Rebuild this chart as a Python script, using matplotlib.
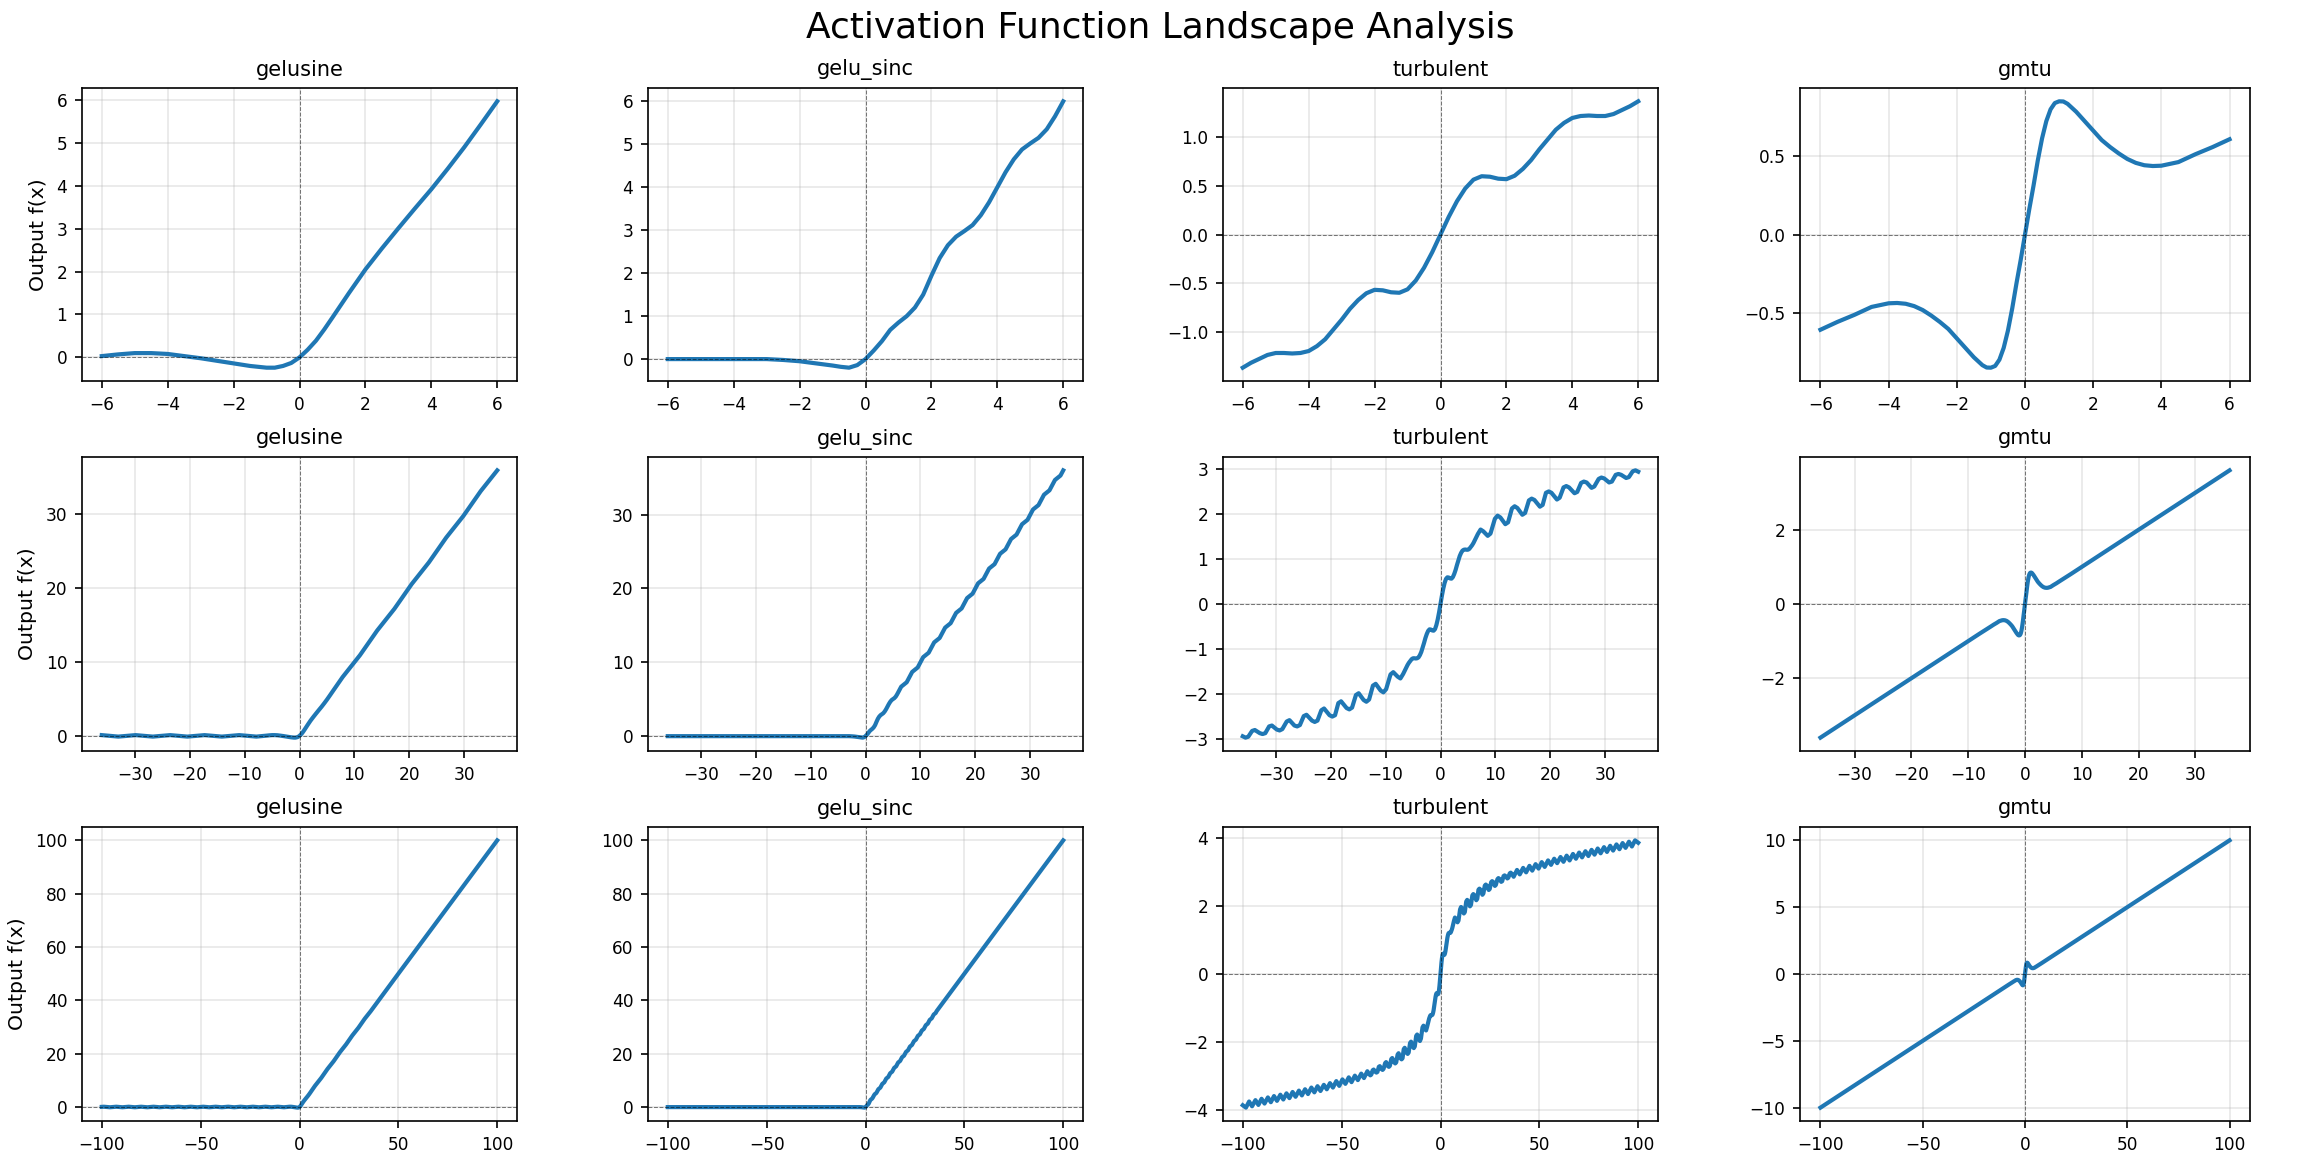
import numpy as np
import matplotlib
matplotlib.use("Agg")
import matplotlib.pyplot as plt
from matplotlib.ticker import MultipleLocator

# ---------------- data ----------------
function_names = ["gelusine", "gelu_sinc", "turbulent", "gmtu"]
row_ranges = [6, 36, 100]
x_tick_steps = [2, 10, 50]
y_tick_steps = [[1, 1, 0.5, 0.5], [10, 10, 1, 2], [20, 20, 2, 5]]
suptitle_text = "Activation Function Landscape Analysis"
ylabel_text = "Output f(x)"

gelusine_x = [-100, -98.96, -95.82, -92.68, -89.54, -86.39, -83.25, -80.11, -76.97, -73.83,
              -70.69, -67.54, -64.40, -61.26, -58.12, -54.98, -51.84, -48.69, -45.55, -42.41,
              -39.27, -36.13, -36, -32.99, -29.85, -26.70, -23.56, -20.42, -17.28, -14.14,
              -10.99, -7.85, -6, -5.5, -5, -4.5, -4, -3.5, -3, -2.5, -2, -1.5, -1, -0.75,
              -0.5, -0.25, 0, 0.25, 0.5, 0.75, 1, 1.5, 2, 2.5, 3, 3.5, 4, 4.5, 5, 5.5, 6,
              7.85, 11.0, 14.14, 17.28, 20.42, 23.56, 26.70, 29.85, 32.99, 36, 50, 75, 100]
gelusine_y = [0.05, 0.10, -0.10, 0.10, -0.10, 0.10, -0.10, 0.10, -0.10, 0.10,
              -0.10, 0.10, -0.10, 0.10, -0.10, 0.10, -0.10, 0.10, -0.10, 0.10,
              -0.10, 0.10, 0.10, -0.10, 0.10, -0.10, 0.10, -0.10, 0.10, -0.10,
              0.10, -0.10, 0.03, 0.07, 0.10, 0.10, 0.08, 0.03, -0.02, -0.08, -0.14, -0.20, -0.24, -0.24,
              -0.20, -0.13, 0.0, 0.18, 0.39, 0.65, 0.93, 1.50, 2.05, 2.54, 3.01, 3.47, 3.92, 4.40, 4.90, 5.43, 5.97,
              7.95, 10.90, 14.24, 17.18, 20.52, 23.46, 26.80, 29.75, 33.09, 35.90, 49.97, 74.96, 99.95]

gelu_sinc_x = [-100, -36, -6, -3, -2.5, -2, -1.5, -1, -0.75, -0.5, -0.25, 0,
               0.25, 0.5, 0.75, 1, 1.25, 1.5, 1.75, 2, 2.25, 2.5, 2.75, 3, 3.25, 3.5, 3.75, 4,
               4.25, 4.5, 4.75, 5, 5.25, 5.5, 5.75, 6,
               6.5, 7.5, 8.5, 9.5, 10.5, 11.5, 12.5, 13.5, 14.5, 15.5, 16.5, 17.5, 18.5, 19.5,
               20.5, 21.5, 22.5, 23.5, 24.5, 25.5, 26.5, 27.5, 28.5, 29.5, 30.5, 31.5, 32.5,
               33.5, 34.5, 35.5, 36, 100]
gelu_sinc_y = [0, 0, 0, 0, -0.02, -0.05, -0.10, -0.15, -0.18, -0.20, -0.14, 0,
               0.20, 0.42, 0.68, 0.85, 1.00, 1.20, 1.50, 1.94, 2.35, 2.65, 2.85, 2.98, 3.12, 3.35, 3.65, 4.00,
               4.35, 4.65, 4.88, 5.02, 5.15, 5.35, 5.65, 6.00,
               6.7, 7.3, 8.7, 9.3, 10.7, 11.3, 12.7, 13.3, 14.7, 15.3, 16.7, 17.3, 18.7, 19.3,
               20.7, 21.3, 22.7, 23.3, 24.7, 25.3, 26.7, 27.3, 28.7, 29.3, 30.7, 31.3, 32.7,
               33.3, 34.7, 35.3, 36.0, 100.0]

turbulent_neg_x = [-100, -98.4, -96.8, -95.3, -93.6, -92.1, -90.5, -89.0, -87.3, -85.8, -84.2,
                   -82.7, -81.0, -79.5, -77.9, -76.4, -74.8, -73.3, -71.6, -70.1, -68.5, -67.0,
                   -65.3, -63.8, -62.2, -60.7, -59.0, -57.5, -55.9, -54.4, -52.7, -51.2, -49.6,
                   -48.1, -46.4, -45.0, -43.3, -41.8, -40.1, -38.7, -37.0,
                   -36.0, -35.5, -35.0, -34.3, -33.8, -32.9, -32.4, -31.9, -31.2, -30.7, -29.8,
                   -29.3, -28.8, -28.0, -27.5, -26.6, -26.1, -25.6, -24.9, -24.4, -23.4, -22.9,
                   -22.4, -21.7, -21.2, -20.2, -19.7, -19.2, -18.6, -18.1, -17.1, -16.6, -16.1,
                   -15.4, -14.9, -14.0, -13.5, -13.0, -12.3, -11.8, -10.9, -10.4, -9.9, -9.1,
                   -8.6, -7.8, -7.3, -6.8, -6.4,
                   -6.0, -5.75, -5.5, -5.25, -5.0, -4.75, -4.5, -4.25, -4.0, -3.75, -3.5, -3.25,
                   -3.0, -2.75, -2.5, -2.25, -2.0, -1.75, -1.5, -1.25, -1.0, -0.75, -0.5, -0.25]
turbulent_neg_y = [-3.86, -3.93, -3.75, -3.89, -3.71, -3.85, -3.67, -3.81, -3.63, -3.77, -3.59,
                   -3.73, -3.55, -3.69, -3.51, -3.65, -3.47, -3.61, -3.43, -3.57, -3.39, -3.53,
                   -3.34, -3.48, -3.30, -3.44, -3.26, -3.39, -3.21, -3.34, -3.15, -3.29, -3.10,
                   -3.23, -3.04, -3.18, -2.99, -3.12, -2.93, -3.06, -2.86,
                   -2.95, -2.98, -2.96, -2.83, -2.81, -2.88, -2.90, -2.88, -2.73, -2.71, -2.80,
                   -2.82, -2.79, -2.62, -2.59, -2.71, -2.73, -2.70, -2.50, -2.47, -2.60, -2.63,
                   -2.60, -2.37, -2.33, -2.48, -2.51, -2.48, -2.21, -2.17, -2.32, -2.35, -2.31,
                   -2.03, -1.99, -2.14, -2.18, -2.13, -1.82, -1.78, -1.93, -1.97, -1.90, -1.57,
                   -1.52, -1.62, -1.66, -1.56, -1.46,
                   -1.36, -1.31, -1.27, -1.23, -1.21, -1.21, -1.215, -1.21, -1.19, -1.14, -1.07, -0.97,
                   -0.87, -0.76, -0.67, -0.60, -0.565, -0.57, -0.59, -0.595, -0.56, -0.47, -0.34, -0.18]
turbulent_pos_x = [0.25, 0.5, 0.75, 1.0, 1.25, 1.5, 1.75, 2.0, 2.25, 2.5, 2.75, 3.0, 3.25, 3.5,
                   3.75, 4.0, 4.25, 4.5, 4.75, 5.0, 5.25, 5.5, 5.75, 6.0,
                   6.4, 6.8, 7.3, 7.8, 8.6, 9.1, 9.9, 10.4, 10.9, 11.8, 12.3, 13.0, 13.5, 14.0,
                   14.9, 15.4, 16.1, 16.6, 17.1, 18.1, 18.6, 19.2, 19.7, 20.2, 21.2, 21.7, 22.4,
                   22.9, 23.4, 24.4, 24.9, 25.6, 26.1, 26.6, 27.5, 28.0, 28.8, 29.3, 29.8, 30.7,
                   31.2, 31.9, 32.4, 32.9, 33.8, 34.3, 35.0, 35.5, 36.0,
                   37.0, 38.7, 40.1, 41.8, 43.3, 45.0, 46.4, 48.1, 49.6, 51.2, 52.7, 54.4, 55.9,
                   57.5, 59.0, 60.7, 62.2, 63.8, 65.3, 67.0, 68.5, 70.1, 71.6, 73.3, 74.8, 76.4,
                   77.9, 79.5, 81.0, 82.7, 84.2, 85.8, 87.3, 89.0, 90.5, 92.1, 93.6, 95.3, 96.8,
                   98.4, 100]
turbulent_pos_y = [0.18, 0.34, 0.47, 0.56, 0.595, 0.59, 0.57, 0.565, 0.60, 0.67, 0.76, 0.87, 0.97,
                   1.07, 1.14, 1.19, 1.21, 1.215, 1.21, 1.21, 1.23, 1.27, 1.31, 1.36,
                   1.46, 1.56, 1.66, 1.62, 1.52, 1.57, 1.90, 1.97, 1.93, 1.78, 1.82, 2.13, 2.18,
                   2.14, 1.99, 2.03, 2.31, 2.35, 2.32, 2.17, 2.21, 2.48, 2.51, 2.48, 2.33, 2.37,
                   2.60, 2.63, 2.60, 2.47, 2.50, 2.70, 2.73, 2.71, 2.59, 2.62, 2.79, 2.82, 2.80,
                   2.71, 2.73, 2.88, 2.90, 2.88, 2.81, 2.83, 2.96, 2.98, 2.95,
                   2.86, 3.06, 2.93, 3.12, 2.99, 3.18, 3.04, 3.23, 3.10, 3.29, 3.15, 3.34, 3.21,
                   3.39, 3.26, 3.44, 3.30, 3.48, 3.34, 3.53, 3.39, 3.57, 3.43, 3.61, 3.47, 3.65,
                   3.51, 3.69, 3.55, 3.73, 3.59, 3.77, 3.63, 3.81, 3.67, 3.85, 3.71, 3.89, 3.75,
                   3.93, 3.86]

gmtu_x = [-100, -36, -20, -10, -8, -6, -5.5, -5, -4.5, -4, -3.75, -3.5, -3.25, -3, -2.75, -2.5,
          -2.25, -2, -1.75, -1.5, -1.25, -1.125, -1, -0.875, -0.75, -0.625, -0.5, -0.375,
          -0.25, -0.125, 0, 0.125, 0.25, 0.375, 0.5, 0.625, 0.75, 0.875, 1, 1.125, 1.25,
          1.5, 1.75, 2, 2.25, 2.5, 2.75, 3, 3.25, 3.5, 3.75, 4, 4.5, 5, 5.5, 6, 8, 10, 20,
          36, 100]
gmtu_y = [-10.0, -3.6, -2.0, -1.0, -0.80, -0.605, -0.555, -0.51, -0.46, -0.437, -0.435, -0.44,
          -0.455, -0.48, -0.515, -0.555, -0.60, -0.66, -0.72, -0.78, -0.83, -0.845, -0.846,
          -0.835, -0.795, -0.72, -0.61, -0.47, -0.31, -0.16, 0.0, 0.16, 0.31, 0.47, 0.61,
          0.72, 0.795, 0.835, 0.846, 0.845, 0.83, 0.78, 0.72, 0.66, 0.60, 0.555, 0.515, 0.48,
          0.455, 0.44, 0.435, 0.437, 0.46, 0.51, 0.555, 0.605, 0.80, 1.0, 2.0, 3.6, 10.0]

curves = {
    "gelusine": (gelusine_x, gelusine_y),
    "gelu_sinc": (gelu_sinc_x, gelu_sinc_y),
    "turbulent": (turbulent_neg_x + [0.0] + turbulent_pos_x,
                  turbulent_neg_y + [0.0] + turbulent_pos_y),
    "gmtu": (gmtu_x, gmtu_y),
}

# ---------------- layout (pixel boxes measured on the reference) ----------------
W, H = 2320, 1168
DPI = 150
col_boxes = [(82, 517), (648, 1083), (1223, 1658), (1800, 2250)]
row_boxes = [(88, 381), (457, 751), (827, 1121)]

fig = plt.figure(figsize=(W / DPI, H / DPI), dpi=DPI)
line_color = "#1f77b4"

for r, R in enumerate(row_ranges):
    top, bot = row_boxes[r]
    for c, name in enumerate(function_names):
        left, right = col_boxes[c]
        ax = fig.add_axes([left / W, 1 - bot / H, (right - left) / W, (bot - top) / H])
        xs = np.asarray(curves[name][0], dtype=float)
        ys = np.asarray(curves[name][1], dtype=float)
        assert xs.shape == ys.shape, name
        m = (xs >= -R - 1e-9) & (xs <= R + 1e-9)
        ax.plot(xs[m], ys[m], color=line_color, linewidth=2)
        ax.axhline(0, color="black", linestyle="--", linewidth=0.5, alpha=0.5)
        ax.axvline(0, color="black", linestyle="--", linewidth=0.5, alpha=0.5)
        ax.xaxis.set_major_locator(MultipleLocator(x_tick_steps[r]))
        ax.yaxis.set_major_locator(MultipleLocator(y_tick_steps[r][c]))
        ax.grid(True, alpha=0.3)
        ax.set_title(name, fontsize=10)
        ax.tick_params(labelsize=8.2)
        if c == 0:
            ax.set_ylabel(ylabel_text, fontsize=9.8)

fig.text(0.5, 1 - 38 / H, suptitle_text, fontsize=17.3, ha="center", va="baseline")
fig.savefig("out.png", dpi=DPI)
